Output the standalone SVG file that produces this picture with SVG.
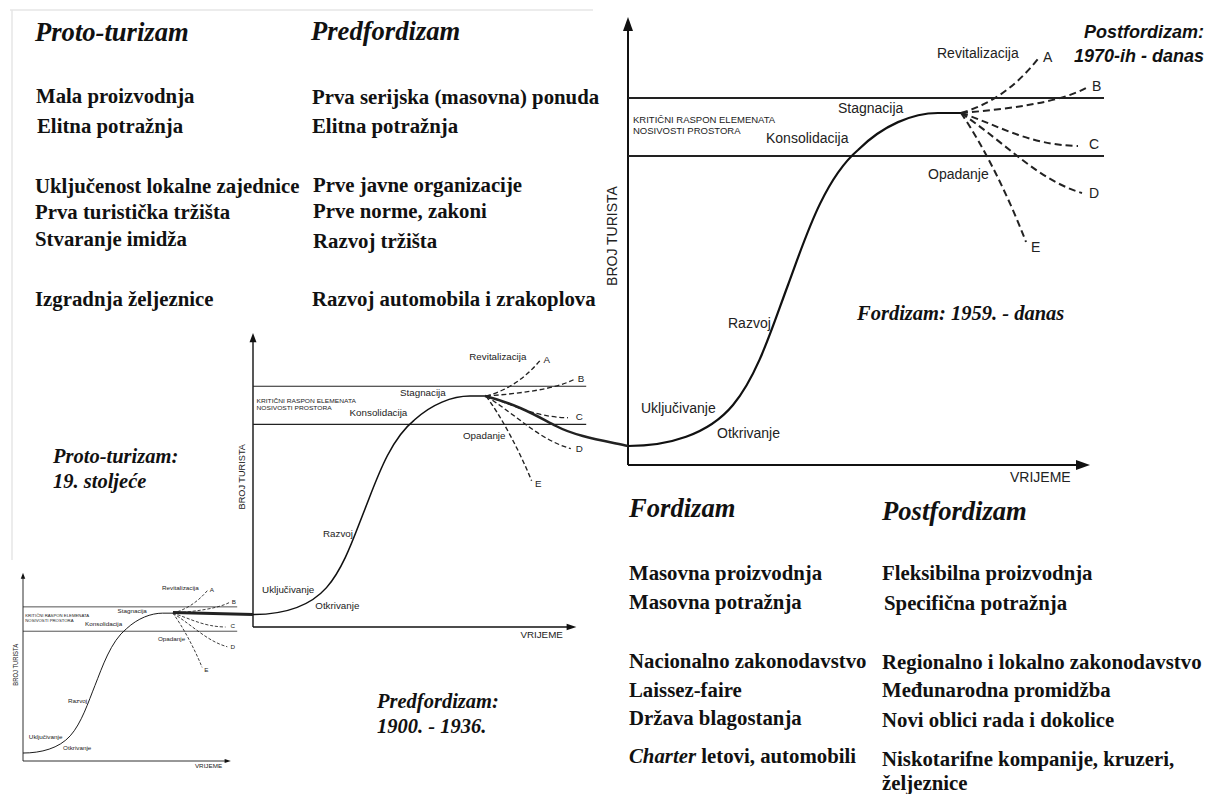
<svg xmlns="http://www.w3.org/2000/svg" width="1212" height="794" viewBox="0 0 1212 794">
<style>
.hd{font-family:"Liberation Serif","Times New Roman",serif;font-weight:bold;font-style:italic;font-size:26.6px;fill:#111}
.bd{font-family:"Liberation Serif","Times New Roman",serif;font-weight:bold;font-size:20.8px;fill:#111}
.it{font-family:"Liberation Serif","Times New Roman",serif;font-weight:bold;font-style:italic;font-size:20.5px;fill:#111}
.pf{font-family:"Liberation Sans",Arial,sans-serif;font-weight:bold;font-style:italic;font-size:18px;fill:#111}
.lb{font-family:"Liberation Sans",Arial,sans-serif;font-size:14px;fill:#222}
.tiny{font-family:"Liberation Sans",Arial,sans-serif;font-size:9.5px;fill:#222}
.ax{stroke:#111;stroke-width:2;fill:none}
.lim{stroke:#222;stroke-width:1.8;fill:none}
.cv{stroke:#111;stroke-width:2.2;fill:none}
.ds{stroke:#222;stroke-width:2;fill:none;stroke-dasharray:7 4}
.ah{fill:#111}
.frame{stroke:#e6e6e6;stroke-width:1.5;fill:none}
.con{stroke:#222;fill:none}
</style>

<g id="frame">
<line class="frame" x1="10" y1="10" x2="593" y2="10"/>
<line class="frame" x1="12" y1="10" x2="12" y2="560"/>
</g>

<g id="block-proto">
<text class="hd" x="35" y="41">Proto-turizam</text>
<text class="bd" x="36" y="103">Mala proizvodnja</text>
<text class="bd" x="37" y="133">Elitna potražnja</text>
<text class="bd" x="35" y="193">Uključenost lokalne zajednice</text>
<text class="bd" x="35" y="219">Prva turistička tržišta</text>
<text class="bd" x="35" y="246">Stvaranje imidža</text>
<text class="bd" x="35" y="306">Izgradnja željeznice</text>
</g>

<g id="block-predfordizam">
<text class="hd" x="311" y="40">Predfordizam</text>
<text class="bd" x="312" y="104">Prva serijska (masovna) ponuda</text>
<text class="bd" x="312" y="133">Elitna potražnja</text>
<text class="bd" x="313" y="192">Prve javne organizacije</text>
<text class="bd" x="313" y="218">Prve norme, zakoni</text>
<text class="bd" x="313" y="248">Razvoj tržišta</text>
<text class="bd" x="312" y="306">Razvoj automobila i zrakoplova</text>
</g>

<g id="block-fordizam">
<text class="hd" x="629" y="517">Fordizam</text>
<text class="bd" x="629" y="580">Masovna proizvodnja</text>
<text class="bd" x="629" y="609">Masovna potražnja</text>
<text class="bd" x="629" y="668">Nacionalno zakonodavstvo</text>
<text class="bd" x="629" y="697">Laissez-faire</text>
<text class="bd" x="629" y="725">Država blagostanja</text>
<text class="bd" x="629" y="763"><tspan font-style="italic">Charter</tspan> letovi, automobili</text>
</g>

<g id="block-postfordizam">
<text class="hd" x="882" y="520">Postfordizam</text>
<text class="bd" x="882" y="580">Fleksibilna proizvodnja</text>
<text class="bd" x="884" y="610">Specifična potražnja</text>
<text class="bd" x="882" y="669">Regionalno i lokalno zakonodavstvo</text>
<text class="bd" x="882" y="697">Međunarodna promidžba</text>
<text class="bd" x="882" y="727">Novi oblici rada i dokolice</text>
<text class="bd" x="882" y="766">Niskotarifne kompanije, kruzeri,</text>
<text class="bd" x="882" y="790">željeznice</text>
</g>

<g id="period-labels">
<text class="it" x="53" y="463">Proto-turizam:</text>
<text class="it" x="53" y="488">19. stoljeće</text>
<text class="it" x="377" y="708">Predfordizam:</text>
<text class="it" x="377" y="733">1900. - 1936.</text>
<text class="it" x="857" y="320">Fordizam: 1959. - danas</text>
<text class="pf" x="1204" y="38" text-anchor="end">Postfordizam:</text>
<text class="pf" x="1204" y="62" text-anchor="end">1970-ih - danas</text>
</g>

<g id="chart-large" transform="translate(628,465)">
<line class="ax" x1="0" y1="0" x2="0" y2="-437"/>
<polygon class="ah" points="0,-448 -5,-434 5,-434"/>
<line class="ax" x1="0" y1="0" x2="450" y2="0"/>
<polygon class="ah" points="462,0 448,-5 448,5"/>
<line class="lim" x1="0" y1="-367" x2="476" y2="-367"/>
<line class="lim" x1="0" y1="-309" x2="476" y2="-309"/>
<text class="tiny" x="5" y="-342">KRITIČNI RASPON ELEMENATA</text>
<text class="tiny" x="5" y="-331">NOSIVOSTI PROSTORA</text>
<text class="lb" x="138" y="-322">Konsolidacija</text>
<text class="lb" x="210" y="-352">Stagnacija</text>
<text class="lb" x="309" y="-407">Revitalizacija</text>
<text class="lb" x="300" y="-286">Opadanje</text>
<text class="lb" x="100" y="-137">Razvoj</text>
<text class="lb" x="13" y="-52">Uključivanje</text>
<text class="lb" x="89" y="-27">Otkrivanje</text>
<text class="lb" x="382" y="17">VRIJEME</text>
<text class="lb" x="-11" y="-229" text-anchor="middle" transform="rotate(-90 -11 -229)">BROJ TURISTA</text>
<text class="lb" x="415" y="-403">A</text>
<text class="lb" x="464" y="-374">B</text>
<text class="lb" x="461" y="-316">C</text>
<text class="lb" x="461" y="-267">D</text>
<text class="lb" x="403" y="-213">E</text>
<path class="cv" d="M0,-19 C40,-19 80,-30 105,-60 C130,-90 145,-140 160,-180 C176,-223 195,-285 230,-315 C255,-340 285,-352 310,-352 L333,-352"/>
<path class="ds" d="M333,-352 C360,-360 385,-375 410,-406"/>
<path class="ds" d="M333,-352 C380,-356 430,-362 458,-377"/>
<path class="ds" d="M333,-352 C370,-340 400,-320 450,-319"/>
<path class="ds" d="M333,-352 C380,-320 410,-285 454,-272"/>
<path class="ds" d="M333,-352 C355,-320 380,-270 398,-223"/>
</g>

<g id="chart-middle" transform="translate(253,627) scale(0.70,0.656)">
<line class="ax" x1="0" y1="0" x2="0" y2="-437"/>
<polygon class="ah" points="0,-448 -5,-434 5,-434"/>
<line class="ax" x1="0" y1="0" x2="450" y2="0"/>
<polygon class="ah" points="462,0 448,-5 448,5"/>
<line class="lim" x1="0" y1="-367" x2="476" y2="-367"/>
<line class="lim" x1="0" y1="-309" x2="476" y2="-309"/>
<text class="tiny" x="5" y="-342">KRITIČNI RASPON ELEMENATA</text>
<text class="tiny" x="5" y="-331">NOSIVOSTI PROSTORA</text>
<text class="lb" x="138" y="-322">Konsolidacija</text>
<text class="lb" x="210" y="-352">Stagnacija</text>
<text class="lb" x="309" y="-407">Revitalizacija</text>
<text class="lb" x="300" y="-286">Opadanje</text>
<text class="lb" x="100" y="-137">Razvoj</text>
<text class="lb" x="13" y="-52">Uključivanje</text>
<text class="lb" x="89" y="-27">Otkrivanje</text>
<text class="lb" x="382" y="17">VRIJEME</text>
<text class="lb" x="-11" y="-229" text-anchor="middle" transform="rotate(-90 -11 -229)">BROJ TURISTA</text>
<text class="lb" x="415" y="-403">A</text>
<text class="lb" x="464" y="-374">B</text>
<text class="lb" x="461" y="-316">C</text>
<text class="lb" x="461" y="-267">D</text>
<text class="lb" x="403" y="-213">E</text>
<path class="cv" d="M0,-19 C40,-19 80,-30 105,-60 C130,-90 145,-140 160,-180 C176,-223 195,-285 230,-315 C255,-340 285,-352 310,-352 L333,-352"/>
<path class="ds" d="M333,-352 C360,-360 385,-375 410,-406"/>
<path class="ds" d="M333,-352 C380,-356 430,-362 458,-377"/>
<path class="ds" d="M333,-352 C370,-340 400,-320 450,-319"/>
<path class="ds" d="M333,-352 C380,-320 410,-285 454,-272"/>
<path class="ds" d="M333,-352 C355,-320 380,-270 398,-223"/>
</g>

<g id="chart-small" transform="translate(23,761) scale(0.45,0.42)">
<line class="ax" x1="0" y1="0" x2="0" y2="-437"/>
<polygon class="ah" points="0,-448 -5,-434 5,-434"/>
<line class="ax" x1="0" y1="0" x2="450" y2="0"/>
<polygon class="ah" points="462,0 448,-5 448,5"/>
<line class="lim" x1="0" y1="-367" x2="476" y2="-367"/>
<line class="lim" x1="0" y1="-309" x2="476" y2="-309"/>
<text class="tiny" x="5" y="-342">KRITIČNI RASPON ELEMENATA</text>
<text class="tiny" x="5" y="-331">NOSIVOSTI PROSTORA</text>
<text class="lb" x="138" y="-322">Konsolidacija</text>
<text class="lb" x="210" y="-352">Stagnacija</text>
<text class="lb" x="309" y="-407">Revitalizacija</text>
<text class="lb" x="300" y="-286">Opadanje</text>
<text class="lb" x="100" y="-137">Razvoj</text>
<text class="lb" x="13" y="-52">Uključivanje</text>
<text class="lb" x="89" y="-27">Otkrivanje</text>
<text class="lb" x="382" y="17">VRIJEME</text>
<text class="lb" x="-11" y="-229" text-anchor="middle" transform="rotate(-90 -11 -229)">BROJ TURISTA</text>
<text class="lb" x="415" y="-403">A</text>
<text class="lb" x="464" y="-374">B</text>
<text class="lb" x="461" y="-316">C</text>
<text class="lb" x="461" y="-267">D</text>
<text class="lb" x="403" y="-213">E</text>
<path class="cv" d="M0,-19 C40,-19 80,-30 105,-60 C130,-90 145,-140 160,-180 C176,-223 195,-285 230,-315 C255,-340 285,-352 310,-352 L333,-352"/>
<path class="ds" d="M333,-352 C360,-360 385,-375 410,-406"/>
<path class="ds" d="M333,-352 C380,-356 430,-362 458,-377"/>
<path class="ds" d="M333,-352 C370,-340 400,-320 450,-319"/>
<path class="ds" d="M333,-352 C380,-320 410,-285 454,-272"/>
<path class="ds" d="M333,-352 C355,-320 380,-270 398,-223"/>
</g>

<g id="connectors">
<path class="con" stroke-width="3.2" d="M173,612.5 L253,614.5"/>
<path class="con" stroke-width="2.5" d="M485,396 C520,405 540,418 556,426 C575,436 600,440 628,446"/>
</g>
</svg>
